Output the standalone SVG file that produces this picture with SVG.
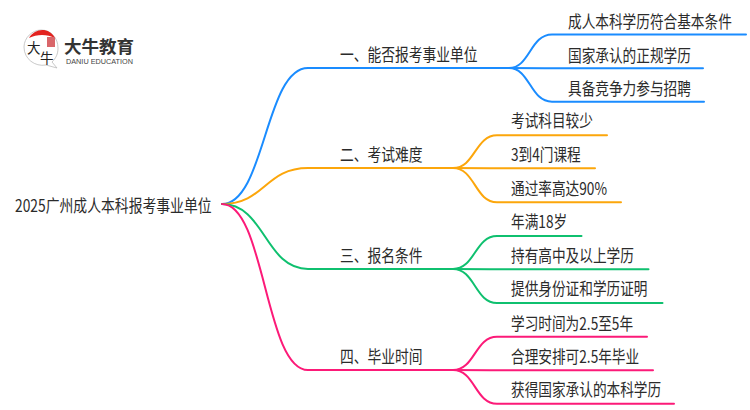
<svg xmlns="http://www.w3.org/2000/svg" width="750" height="410" viewBox="0 0 750 410">
<style>
text{font-family:"Noto Sans CJK SC","Noto Sans",sans-serif;fill:#2b2b2b;font-size:17px}
.c{fill:none;stroke-width:2;stroke-linecap:round}
.b{stroke:#1a8cff}.o{stroke:#fca60b}.g{stroke:#0fc06f}.p{stroke:#fc1a78}
</style>
<rect width="750" height="410" fill="#fff"/>
<g id="connectors">
<path class="c b" d="M222 204C265 204 265 68 308 68H509"/>
<path class="c b" d="M509 68C530 68 530 34.500 552 34.500H746"/>
<path class="c b" d="M509 68C530 68 540 68 552 68.300H703"/>
<path class="c b" d="M509 68C530 68 530 101.700 552 101.700H704"/>
<path class="c o" d="M222 204C265 204 265 168 308 168H453"/>
<path class="c o" d="M453 168C475 168 475 135.300 497 135.300H607"/>
<path class="c o" d="M453 168C475 168 485 168 497 168.300H595"/>
<path class="c o" d="M453 168C475 168 475 202.300 497 202.300H621"/>
<path class="c g" d="M222 204C265 204 265 269 308 269H453"/>
<path class="c g" d="M453 269C475 269 475 236 497 236H581.500"/>
<path class="c g" d="M453 269C475 269 485 269 497 269.300H648.500"/>
<path class="c g" d="M453 269C475 269 475 303 497 303H662.500"/>
<path class="c p" d="M222 204C265 204 265 370 308 370H453"/>
<path class="c p" d="M453 370C475 370 475 336.700 497 336.700H647"/>
<path class="c p" d="M453 370C475 370 485 370 497 370.300H653"/>
<path class="c p" d="M453 370C475 370 475 403.700 497 403.700H674"/>
</g>
<g id="logo">
<path d="M41 30C51 30 58 38 58 48C58 54 56 58 52 62L57 68L46 65C35 67 24 59 24 47C24 38 32 30 41 30Z" fill="#fff" stroke="#bbb" stroke-width="0.800"/>
<path d="M29 38C35 28 49 27 55 38C47 34 37 34 29 38Z" fill="#e3231f"/>
<rect x="47" y="37" width="8" height="10" fill="#d9666a"/>
<text x="27" y="53" style="font-size:13.500px;fill:#222">大</text>
<text x="40" y="63" style="font-size:13.500px;fill:#222">牛</text>
<text x="64" y="53" style="font-size:17.500px;font-weight:700;fill:#333">大牛教育</text>
<text x="66" y="64" textLength="67" lengthAdjust="spacingAndGlyphs" style="font-size:7px;font-family:'Liberation Sans',sans-serif;fill:#444">DANIU EDUCATION</text>
</g>
<g id="root"><text transform="translate(15 212) scale(.814 1)">2025广州成人本科报考事业单位</text></g>
<g id="n1"><text transform="translate(340 61) scale(.81 1)">一、能否报考事业单位</text></g>
<g id="n1a"><text transform="translate(568 28) scale(.804 1)">成人本科学历符合基本条件</text></g>
<g id="n1b"><text transform="translate(568 62) scale(.804 1)">国家承认的正规学历</text></g>
<g id="n1c"><text transform="translate(568 95) scale(.804 1)">具备竞争力参与招聘</text></g>
<g id="n2"><text transform="translate(340 161) scale(.81 1)">二、考试难度</text></g>
<g id="n2a"><text transform="translate(511 127) scale(.804 1)">考试科目较少</text></g>
<g id="n2b"><text transform="translate(511 161) scale(.804 1)">3到4门课程</text></g>
<g id="n2c"><text transform="translate(511 195) scale(.804 1)">通过率高达90%</text></g>
<g id="n3"><text transform="translate(340 262) scale(.81 1)">三、报名条件</text></g>
<g id="n3a"><text transform="translate(511 228) scale(.804 1)">年满18岁</text></g>
<g id="n3b"><text transform="translate(511 262) scale(.804 1)">持有高中及以上学历</text></g>
<g id="n3c"><text transform="translate(511 295) scale(.804 1)">提供身份证和学历证明</text></g>
<g id="n4"><text transform="translate(340 363) scale(.81 1)">四、毕业时间</text></g>
<g id="n4a"><text transform="translate(511 330) scale(.804 1)">学习时间为2.5至5年</text></g>
<g id="n4b"><text transform="translate(511 363) scale(.804 1)">合理安排可2.5年毕业</text></g>
<g id="n4c"><text transform="translate(511 396) scale(.804 1)">获得国家承认的本科学历</text></g>
</svg>
